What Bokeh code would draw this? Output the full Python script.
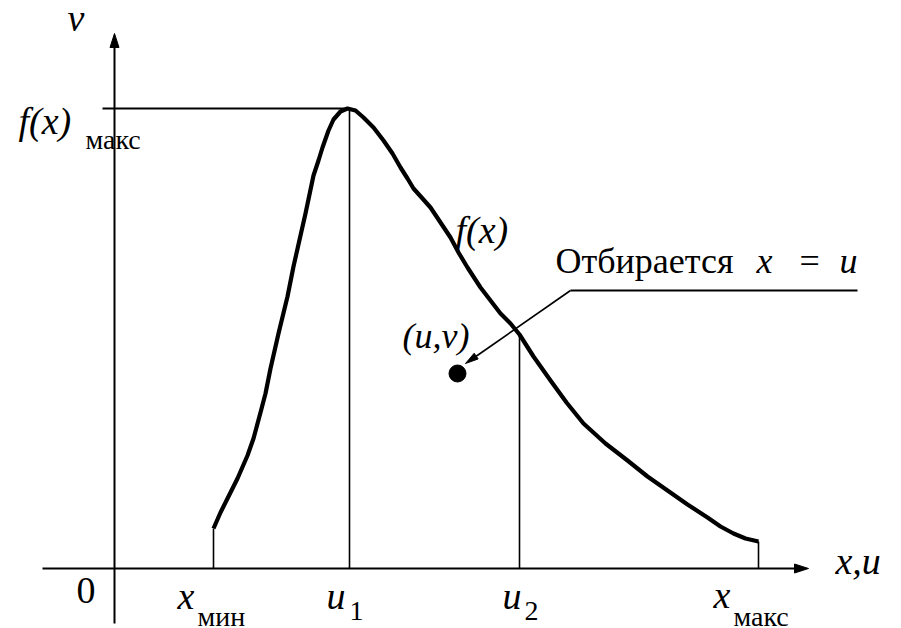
import math
from bokeh.plotting import figure
from bokeh.models import Range1d
from bokeh.core.properties import value
from bokeh.embed import file_html
from bokeh.resources import INLINE

# ---- data (diagram coordinates; y grows downward) ----
axis_y = 568            # position of the x axis
axis_x = 114            # position of the v axis
x_axis_start, x_axis_end = 42, 808
v_axis_start, v_axis_end = 623, 33

# f(x) curve points
curve_x = [213, 220, 227, 237, 247, 253, 260, 265, 270, 278, 287, 293, 300, 305,
           313, 318, 322, 328, 333, 340, 347, 355, 363, 373, 383, 392, 400, 407,
           413, 422, 430, 440, 450, 458, 467, 480, 490, 500, 510, 519, 533, 550,
           566, 583, 605, 627, 647, 667, 687, 707, 720, 733, 745, 758]
curve_y = [528, 512, 498, 478, 455, 438, 412, 393, 368, 333, 296, 266, 235, 213,
           175, 160, 147, 130, 119, 111, 108, 110, 117, 127, 140, 153, 167, 178,
           188, 198, 207, 222, 237, 252, 267, 287, 300, 313, 323, 334, 356, 380,
           402, 423, 443, 460, 476, 490, 504, 517, 526, 533, 538, 541]

# marked abscissas and curve values there
mark_names = ["x_min", "u1", "u2", "x_max"]
mark_x = [213, 349, 519, 758]
mark_f = [528, 108, 334, 541]

f_max = 108
f_max_line_start = 102

# sampled point (u, v)
point_u, point_v = 457, 373

# leader line for the note
leader_y = 290
leader_x0, leader_x1 = 570, 857
arrow_tip = (465, 363)

p = figure(width=901, height=628, x_range=Range1d(0, 901), y_range=Range1d(628, 0),
           output_backend="svg", toolbar_location=None, min_border=0)
p.axis.visible = False
p.grid.visible = False
p.outline_line_color = None

FONT = "Liberation Serif"


def glyph_label(x, y, txt, size, italic=False):
    px = float(size.replace("px", ""))
    kw = dict(text_font=value(FONT), text_font_size=size, text_baseline="alphabetic",
              text_color="black")
    if italic:
        kw["text_font_style"] = "italic"
    p.text(x=[x], y=[y - 0.33 * px], text=[txt], **kw)


MAIN = "38px"
SUB = "28px"

# texts first
glyph_label(67, 30, "v", MAIN, True)
glyph_label(18, 133, "f(x)", MAIN, True)
glyph_label(85, 148, "макс", SUB)
glyph_label(455, 242, "f(x)", MAIN, True)
glyph_label(555, 272, "Отбирается", "36px")
glyph_label(756, 272, "x", "36px", True)
glyph_label(799, 272, "=", "36px")
glyph_label(839, 272, "u", "36px", True)
glyph_label(402, 347, "(u,v)", "36px", True)
glyph_label(835, 573, "x,u", MAIN, True)
glyph_label(76, 603, "0", MAIN)
glyph_label(177, 608, "x", MAIN, True)
glyph_label(197, 625, "мин", SUB)
glyph_label(326, 608, "u", MAIN, True)
glyph_label(349, 620, "1", SUB)
glyph_label(502, 608, "u", MAIN, True)
glyph_label(524, 620, "2", SUB)
glyph_label(713, 607, "x", MAIN, True)
glyph_label(733, 625, "макс", SUB)


def head(x0, y0, x1, y1, length, width):
    """Triangle arrow head at (x1, y1) pointing away from (x0, y0)."""
    dx, dy = x1 - x0, y1 - y0
    n = math.hypot(dx, dy)
    ux, uy = dx / n, dy / n
    bx, by = x1 - ux * length, y1 - uy * length
    nx, ny = -uy * width / 2, ux * width / 2
    return [x1, bx + nx, bx - nx], [y1, by + ny, by - ny]


heads = [head(x_axis_start, axis_y, x_axis_end, axis_y, 14, 9),
         head(axis_x, v_axis_start, axis_x, v_axis_end, 14, 9),
         head(leader_x0, leader_y, arrow_tip[0], arrow_tip[1], 13, 7)]

# axes
p.segment(x0=[x_axis_start, axis_x], y0=[axis_y, v_axis_start],
          x1=[x_axis_end - 8, axis_x], y1=[axis_y, v_axis_end + 8],
          line_color="black", line_width=2)

# vertical lines at marked abscissas
p.segment(x0=mark_x, y0=[axis_y] * len(mark_x), x1=mark_x, y1=mark_f,
          line_color="black", line_width=1.6)

# f(x)max level line
p.segment(x0=[f_max_line_start], y0=[f_max], x1=[mark_x[1]], y1=[f_max],
          line_color="black", line_width=2)

# the curve
p.line(curve_x, curve_y, line_color="black", line_width=4.2, line_join="round")

# the note leader and arrow to the point
p.segment(x0=[leader_x0, leader_x0], y0=[leader_y, leader_y],
          x1=[leader_x1, arrow_tip[0] + 6], y1=[leader_y, arrow_tip[1] - 4],
          line_color="black", line_width=[2, 1.6])

# arrow heads
p.patches(xs=[h[0] for h in heads], ys=[h[1] for h in heads],
          fill_color="black", line_color="black", line_width=1)

# the point
p.circle(x=[point_u], y=[point_v], radius=8.5, fill_color="black", line_color="black")

open("out.html", "w").write(file_html(p, INLINE))
